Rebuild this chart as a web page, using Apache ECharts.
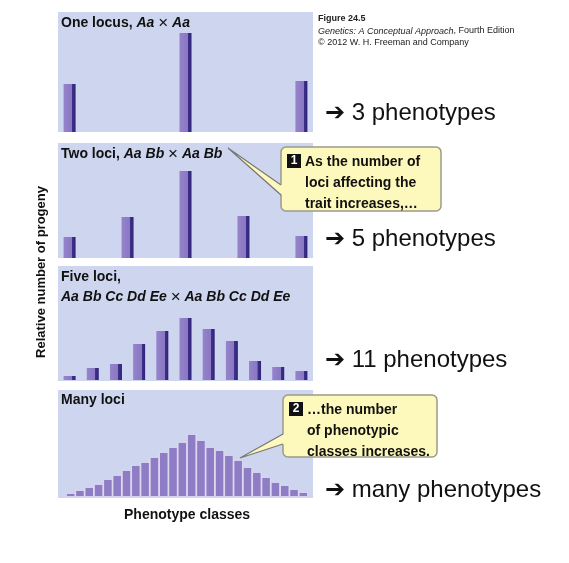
<!DOCTYPE html>
<html><head><meta charset="utf-8">
<script src="https://cdn.jsdelivr.net/npm/echarts@6/dist/echarts.min.js"></script>
<style>html,body{margin:0;padding:0;background:#fff}#c{width:569px;height:563px}</style>
</head><body><div id="c"></div>
<script>
// Phenotype class positions (class index) and relative heights
const oneLocusClasses = [0, 5, 10];
const oneLocusValues = [48, 99, 51];
const twoLociClasses = [0, 2.5, 5, 7.5, 10];
const twoLociValues = [21, 41, 87, 42, 22];
const fiveLociClasses = [0,1,2,3,4,5,6,7,8,9,10];
const fiveLociValues = [4, 12, 16, 36, 49, 62, 51, 39, 19, 13, 9];
const manyLociValues = [4,7,10,13,18,22,27,32,35,40,45,50,55,63,57,50,47,42,37,30,25,20,15,12,8,5];
const phenotypeLabels = ['➔ 3 phenotypes','➔ 5 phenotypes','➔ 11 phenotypes','➔ many phenotypes'];

const FONT = 'Liberation Sans, Arial, sans-serif';
const barGrad = new echarts.graphic.LinearGradient(0,0,1,0,[
  {offset:0,color:'#9583cc'},{offset:0.7,color:'#8a77c2'},{offset:0.71,color:'#3f318c'},{offset:1,color:'#2f2378'}]);
const panels = [
  {top:12,h:120},{top:143,h:115},{top:267,h:113},{top:390,h:107}
];
const grids = panels.map((p,i)=>({left: i===3?66:58, width: i===3?242:255, top:p.top, height:p.h}));
const xAxes = [0,1,2].map(i=>({gridIndex:i,type:'value',min:-0.5,max:10.5,show:false}));
xAxes.push({gridIndex:3,type:'category',data:manyLociValues.map((_,i)=>i),show:false});
const yAxes = panels.map((p,i)=>({gridIndex:i,type:'value',min:0,max:p.h,show:false}));
function pair(xs,vs){return xs.map((x,i)=>[x,vs[i]]);}
const barStyle = {color:barGrad,borderColor:'#fff',borderWidth:0};
const series = [
  {type:'bar',xAxisIndex:0,yAxisIndex:0,data:pair(oneLocusClasses,oneLocusValues),barWidth:12,itemStyle:barStyle},
  {type:'bar',xAxisIndex:1,yAxisIndex:1,data:pair(twoLociClasses,twoLociValues),barWidth:12,itemStyle:barStyle},
  {type:'bar',xAxisIndex:2,yAxisIndex:2,data:pair(fiveLociClasses,fiveLociValues),barWidth:12,itemStyle:barStyle},
  {type:'bar',xAxisIndex:3,yAxisIndex:3,data:manyLociValues,barCategoryGap:'0%',itemStyle:{color:'#8e7cc4',borderColor:'#e8e4f6',borderWidth:0.8}}
];
const bg = [[58,12,255,120],[58,143,255,115],[58,266,255,115],[58,390,255,108]].map(r=>({
  type:'rect',shape:{x:r[0],y:r[1],width:r[2],height:r[3]},style:{fill:'#cdd6ee'},z:-10}));
const rich = {b:{fontWeight:'bold',fontSize:14,fontFamily:FONT,fill:'#111'},i:{fontWeight:'bold',fontStyle:'italic',fontSize:14,fontFamily:FONT,fill:'#111'},x:{fontSize:17,fontFamily:FONT,fill:'#111'}};
function title(x,y,t){return {type:'text',x:x,y:y,z:5,style:{text:t,rich:rich,font:'bold 14px '+FONT}};}
const texts = [
  title(61,15,'{b|One locus, }{i|Aa }{x|×}{i| Aa}'),
  title(61,146,'{b|Two loci, }{i|Aa Bb }{x|×}{i| Aa Bb}'),
  title(61,270,'{b|Five loci,}'),
  title(61,289,'{i|Aa Bb Cc Dd Ee }{x|×}{i| Aa Bb Cc Dd Ee}'),
  title(61,393,'{b|Many loci}'),
  {type:'text',x:124,y:508,style:{text:'Phenotype classes',font:'bold 14px '+FONT,fill:'#111'}},
  {type:'text',x:41,y:272,rotation:Math.PI/2,style:{text:'Relative number of progeny',font:'bold 13px '+FONT,fill:'#111',align:'center',verticalAlign:'middle'}},
  {type:'text',x:318,y:13,style:{text:'{b|Figure 24.5}\n{i|Genetics: A Conceptual Approach}{n|, Fourth Edition}\n{n|© 2012 W. H. Freeman and Company}',
    rich:{b:{font:'bold 9px '+FONT,fill:'#222',lineHeight:12},i:{font:'italic 9px '+FONT,fill:'#222',lineHeight:12},n:{font:'9px '+FONT,fill:'#222',lineHeight:12}}}},
];
const ys = [113,239,360,490];
ys.forEach((y,i)=>texts.push({type:'text',x:325,y:y,style:{text:phenotypeLabels[i],font:'24px '+FONT,fill:'#111',verticalAlign:'middle'}}));
function callout(x,y,w,h,num,lines,tip,a,b){
  return [
    {type:'rect',z:20,shape:{x:x,y:y,width:w,height:h,r:5},style:{fill:'#fdf8bb',stroke:'#9a9a8a',lineWidth:1.5}},
    {type:'polygon',z:21,shape:{points:[[x+1,a],tip,[x+1,b]]},style:{fill:'#fdf8bb',stroke:'none'}},
    {type:'polyline',z:21,shape:{points:[[x,a],tip,[x,b]]},style:{stroke:'#777',lineWidth:1.2,fill:null}},
    {type:'rect',z:22,shape:{x:x+6,y:y+7,width:14,height:14},style:{fill:'#111'}},
    {type:'text',z:23,x:x+13,y:y+14,style:{text:num,font:'bold 12px '+FONT,fill:'#fff',align:'center',verticalAlign:'middle'}},
    {type:'text',z:23,x:x+24,y:y+5,style:{text:lines,font:'bold 14px '+FONT,fill:'#111',lineHeight:21}}
  ];
}
const c1 = callout(281,147,160,64,'1','As the number of\nloci affecting the\ntrait increases,…',[228,148],185,195);
const c2 = callout(283,395,154,62,'2','…the number\nof phenotypic\nclasses increases.',[240,458],434,444);
const chart = echarts.init(document.getElementById('c'),null,{renderer:'canvas'});
chart.setOption({animation:false,grid:grids,xAxis:xAxes,yAxis:yAxes,series:series,graphic:bg.concat(texts,c1,c2)});
</script></body></html>
